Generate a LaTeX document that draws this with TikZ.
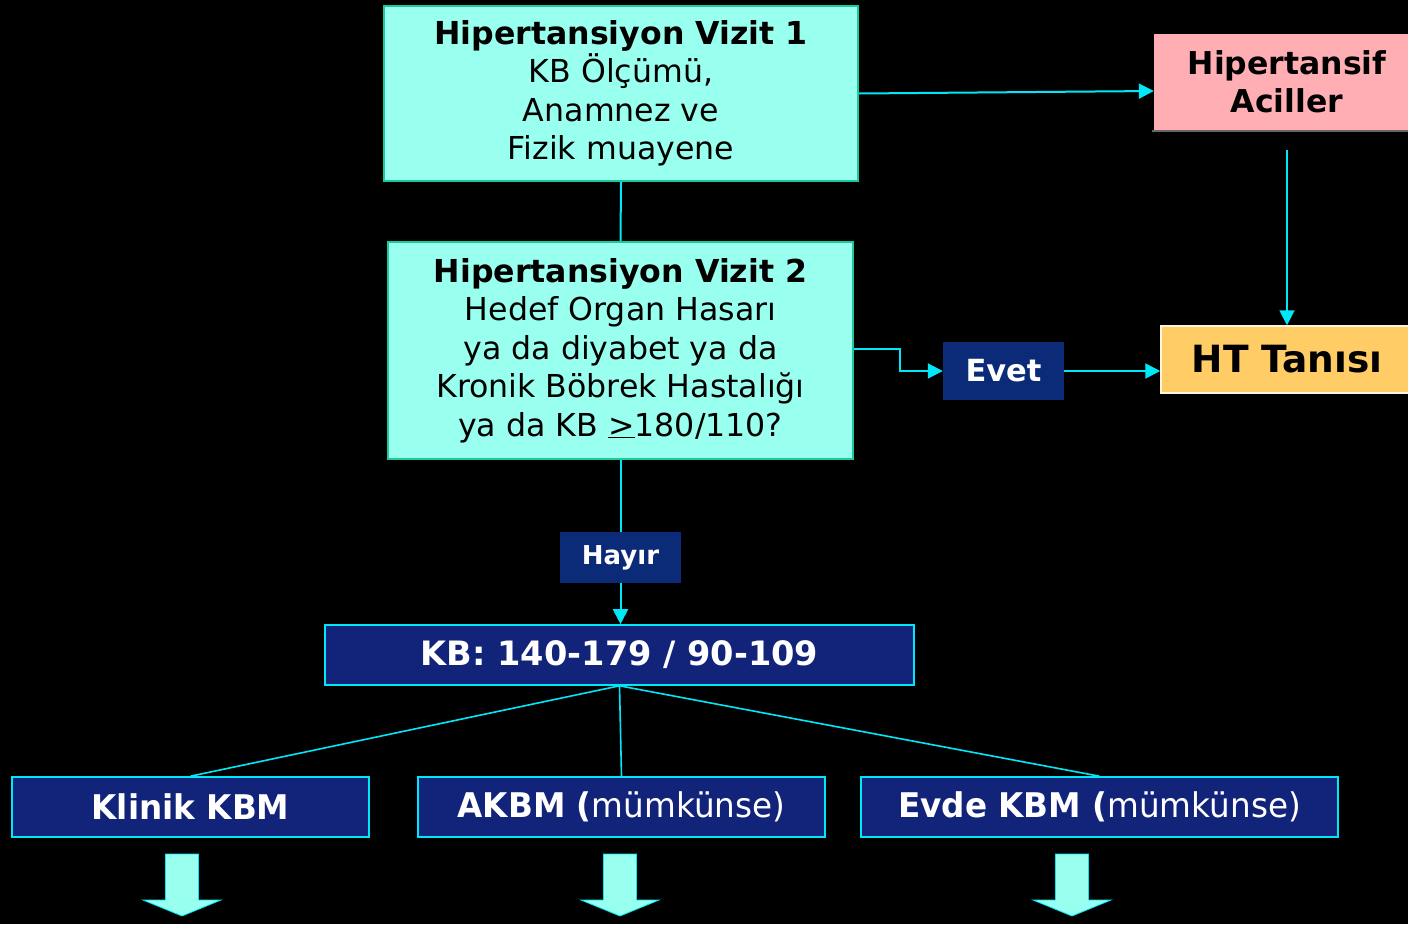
\documentclass[tikz,border=0pt]{standalone}
\usepackage{fontspec}
\setmainfont{DejaVu Sans}
\newfontfamily\narrowfont[FakeStretch=0.96]{DejaVu Sans}
\usetikzlibrary{arrows.meta}
\definecolor{aqua}{HTML}{99FFEE}
\definecolor{aquaborder}{HTML}{1CC99A}
\definecolor{cyanline}{HTML}{00E8F8}
\definecolor{navy}{HTML}{0B2A78}
\definecolor{kbnavy}{HTML}{12247A}
\definecolor{pinkbox}{HTML}{FFAEB4}
\definecolor{orangebox}{HTML}{FFCC66}
\definecolor{cream}{HTML}{FFF4DC}
\tikzset{
  visit/.style={draw=aquaborder, line width=2pt, fill=aqua, text=black, align=center, inner sep=0pt,
    font=\fontsize{31.6}{38.5}\selectfont},
  label box/.style={fill=navy, text=white, inner sep=0pt, font=\bfseries},
  kbbox/.style={draw=cyanline, line width=1.6pt, fill=kbnavy, text=white, inner sep=0pt, minimum height=60pt},
  conn/.style={draw=cyanline, line width=2pt},
  arr/.style={conn, -{Triangle[length=15pt,width=15pt]}},
  blockarrow/.style={fill=aqua, draw=cyanline, line width=0.8pt}
}
\begin{document}
\begin{tikzpicture}[x=1pt,y=-1pt]
\useasboundingbox (0,0) rectangle (1408,924);
\fill[black] (0,0) rectangle (1408,924);
\clip (0,0) rectangle (1408,924);

% top boxes
\node[visit, minimum width=474pt, minimum height=175pt] (v1) at (621,93.5)
  {\textbf{Hipertansiyon Vizit 1}\\KB Ölçümü,\\Anamnez ve\\Fizik muayene};
\node[visit, minimum width=465pt, minimum height=217pt] (v2) at (620.5,350.5)
  {\textbf{Hipertansiyon Vizit 2}\\Hedef Organ Hasarı\\ya da diyabet ya da\\Kronik Böbrek Hastalığı\\ya da KB \underline{>}180/110?};

\draw[line width=1.2pt, draw=black!60] (1152,131) -- (1420,131);
\node[fill=pinkbox, text=black, align=center, inner sep=0pt, minimum width=266pt, minimum height=96pt,
  font=\fontsize{31.5}{38}\selectfont\bfseries] (hac) at (1287,82) {Hipertansif\\Aciller};
\node[fill=orangebox, draw=cream, line width=1.5pt, text=black, inner sep=0pt, minimum width=252pt, minimum height=67pt,
  font=\fontsize{37.5}{40}\selectfont\bfseries] (ht) at (1287,359.5) {HT Tanısı};

\node[label box, minimum width=121pt, minimum height=58pt, font=\fontsize{30.5}{34}\selectfont\bfseries] (evet) at (1003.5,371) {Evet};
\node[label box, minimum width=121pt, minimum height=51pt, font=\fontsize{26}{30}\selectfont\bfseries] (hayir) at (620.5,557.5) {Hayır};

\node[kbbox, minimum width=589pt, font=\fontsize{33.6}{36}\selectfont\bfseries] (kb) at (619.5,655) {KB: 140-179 / 90-109};

\node[kbbox, minimum width=357pt, font=\fontsize{34}{36}\narrowfont] (klinik) at (190.5,807) {\textbf{Klinik KBM}};
\node[kbbox, minimum width=407pt, font=\fontsize{34}{36}\narrowfont] (akbm) at (621.5,807) {\textbf{AKBM (}mümkünse)};
\node[kbbox, minimum width=477pt, font=\fontsize{34}{36}\narrowfont] (evde) at (1099.5,807) {\textbf{Evde KBM (}mümkünse)};

% connectors
\draw[arr] (v1.east) -- ([yshift=-9pt]hac.west);
\draw[conn] (v1.south) -- (v2.north);
\coordinate (hs) at (1287,150);
\draw[arr] (hs) -- (ht.north);
\draw[arr] ([yshift=2pt]v2.east) -- ++(46,0) |- (evet.west);
\draw[arr] (evet.east) -- (ht.west |- evet.east);
\draw[conn] (v2.south) -- (hayir.north);
\draw[arr] (hayir.south) -- (kb.north -| hayir.south);
\draw[conn, line width=1.6pt] (kb.south) -- (klinik.north);
\draw[conn, line width=1.6pt] (kb.south) -- (akbm.north);
\draw[conn, line width=1.6pt] (kb.south) -- (evde.north);

% block arrows
\foreach \cx in {182,620,1072}{
  \draw[blockarrow] (\cx-16.5,854) -- (\cx+16.5,854) -- (\cx+16.5,900) -- (\cx+39,900)
    -- (\cx,916) -- (\cx-39,900) -- (\cx-16.5,900) -- cycle;
}
\end{tikzpicture}
\end{document}
